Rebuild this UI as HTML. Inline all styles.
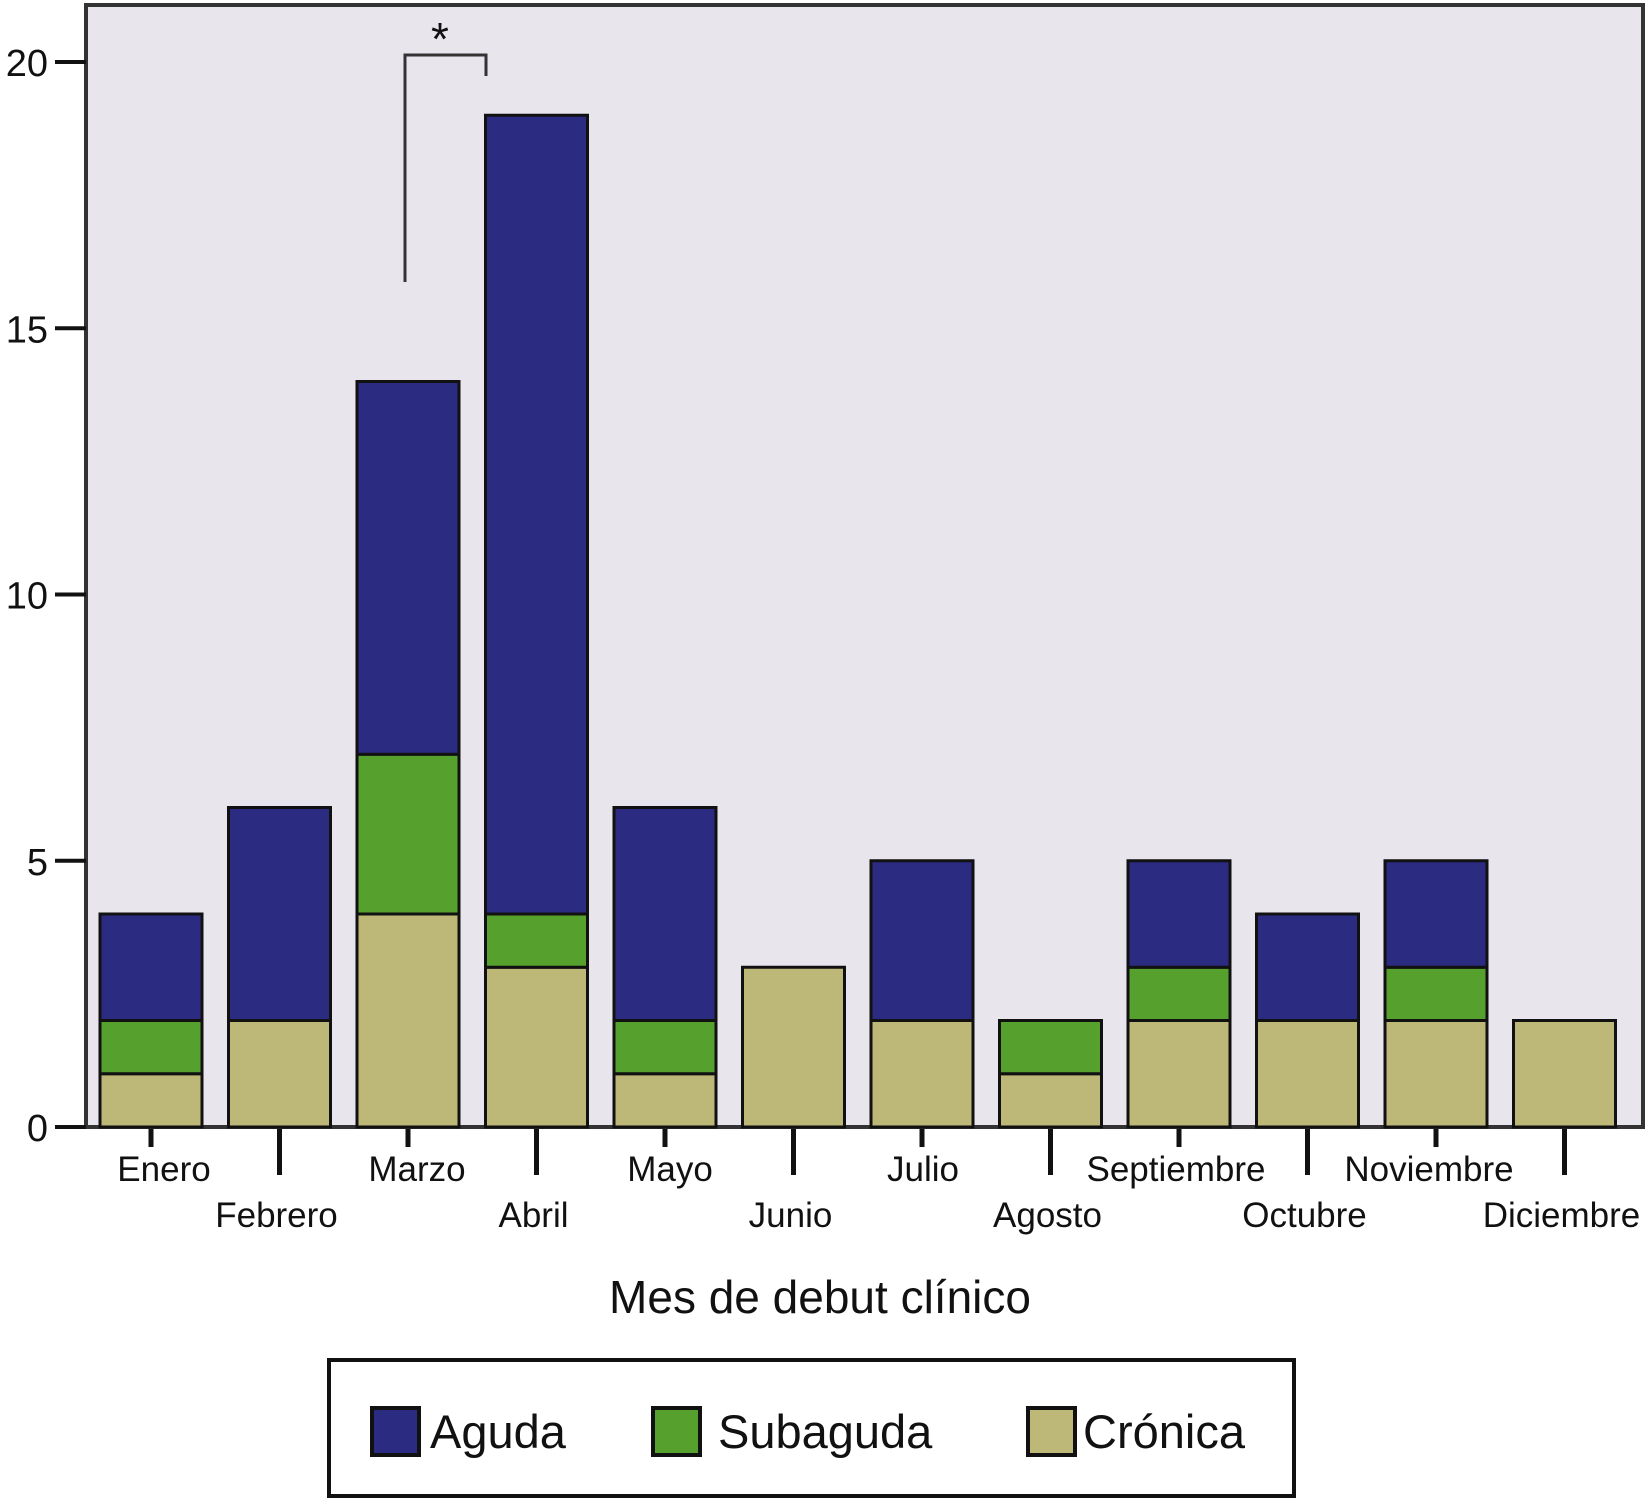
<!DOCTYPE html>
<html><head><meta charset="utf-8"><style>
html,body{margin:0;padding:0;background:#fff;}
svg{display:block;font-family:"Liberation Sans",Arial,sans-serif;}
</style></head><body>
<svg id="chart" width="1647" height="1498" viewBox="0 0 1647 1498" xmlns="http://www.w3.org/2000/svg">
<rect x="86" y="5" width="1557" height="1122" fill="#e9e5ed" stroke="#333" stroke-width="4"/>
<g id="bars"></g>
<g id="yaxis"></g>
<g id="xaxis"></g>
<g>
<polyline points="405,282 405,55 486,55 486,76" fill="none" stroke="#333" stroke-width="3"/>
<text x="440" y="55" font-size="46" text-anchor="middle" fill="#111">*</text>
</g>
<text x="820" y="1313" font-size="46" text-anchor="middle" fill="#111">Mes de debut clínico</text>
<g>
<rect x="329" y="1360" width="965" height="136" fill="#fff" stroke="#111" stroke-width="4"/>
<g>
<rect x="372" y="1408" width="47" height="47" fill="#2c2b82" stroke="#111" stroke-width="4"/>
<text x="430" y="1448" font-size="47" fill="#111">Aguda</text></g>
<g>
<rect x="653" y="1408" width="47" height="47" fill="#56a02e" stroke="#111" stroke-width="4"/>
<text x="718" y="1448" font-size="47" fill="#111">Subaguda</text></g>
<g>
<rect x="1028" y="1408" width="47" height="47" fill="#bdb878" stroke="#111" stroke-width="4"/>
<text x="1083" y="1448" font-size="47" fill="#111">Crónica</text></g>
</g>
</svg>
<script>
const months = ["Enero","Febrero","Marzo","Abril","Mayo","Junio","Julio","Agosto","Septiembre","Octubre","Noviembre","Diciembre"];
const cronica = [1,2,4,3,1,3,2,1,2,2,2,2];
const subaguda = [1,0,3,1,1,0,0,1,1,0,1,0];
const aguda = [2,4,7,15,4,0,3,0,2,2,2,0];
const yTicks = [0,5,10,15,20];
const NS = "http://www.w3.org/2000/svg";
const y0 = 1127, unit = (1127-62)/20;
function yScale(v){ return y0 - v*unit; }
function xLeft(i){ return 100 + i*128.5; }
const bw = 102;
const bars = document.getElementById("bars");
const series = [["cronica",cronica,"#bdb878"],["subaguda",subaguda,"#56a02e"],["aguda",aguda,"#2c2b82"]];
months.forEach((m,i)=>{
  let base = 0;
  series.forEach(([nm,arr,col])=>{
    const v = arr[i];
    if(v>0){
      const r = document.createElementNS(NS,"rect");
      r.setAttribute("x", xLeft(i));
      r.setAttribute("y", yScale(base+v));
      r.setAttribute("width", bw);
      r.setAttribute("height", yScale(base)-yScale(base+v));
      r.setAttribute("fill", col);
      r.setAttribute("stroke", "#111");
      r.setAttribute("stroke-width", "3");
      
      
      bars.appendChild(r);
    }
    base += v;
  });
});
const ya = document.getElementById("yaxis");
yTicks.forEach(t=>{
  const y = yScale(t);
  const l = document.createElementNS(NS,"line");
  l.setAttribute("x1",55); l.setAttribute("x2",86); l.setAttribute("y1",y); l.setAttribute("y2",y);
  l.setAttribute("stroke","#111"); l.setAttribute("stroke-width","4");
  
  
  ya.appendChild(l);
  const tx = document.createElementNS(NS,"text");
  tx.setAttribute("x",48); tx.setAttribute("y",y+14); tx.setAttribute("font-size","38");
  tx.setAttribute("text-anchor","end"); tx.setAttribute("fill","#111");
  tx.textContent = t;
  
  
  ya.appendChild(tx);
});
const xa = document.getElementById("xaxis");
months.forEach((m,i)=>{
  const cx = xLeft(i)+bw/2;
  const odd = i%2===1;
  const l = document.createElementNS(NS,"line");
  l.setAttribute("x1",cx); l.setAttribute("x2",cx); l.setAttribute("y1",1129); l.setAttribute("y2",odd?1175:1147);
  l.setAttribute("stroke","#111"); l.setAttribute("stroke-width","5");
  
  
  xa.appendChild(l);
  const tx = document.createElementNS(NS,"text");
  const off = odd ? -3 : 13 - i*2;
  tx.setAttribute("x",cx+off); tx.setAttribute("y",odd?1227:1181); tx.setAttribute("font-size","35");
  tx.setAttribute("text-anchor","middle"); tx.setAttribute("fill","#111");
  tx.textContent = m;
  
  
  xa.appendChild(tx);
});
</script>
</body></html>
